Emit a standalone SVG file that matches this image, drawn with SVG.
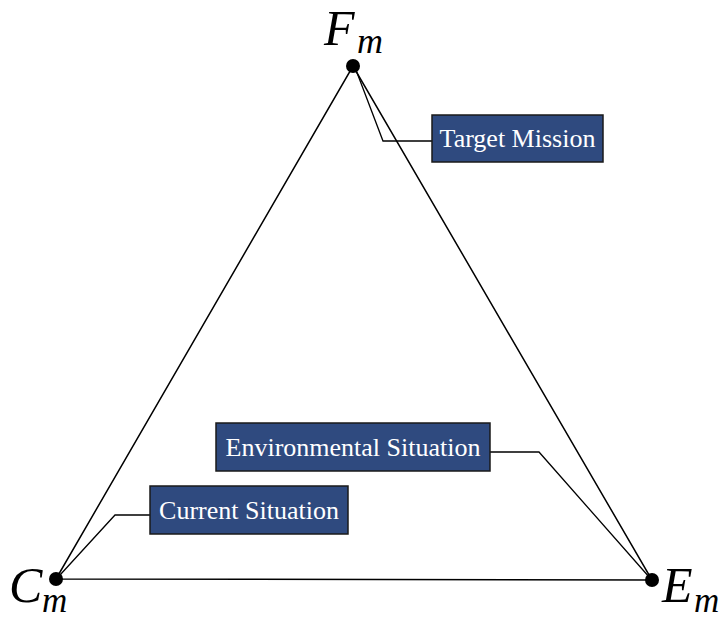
<svg xmlns="http://www.w3.org/2000/svg" width="723" height="620" viewBox="0 0 723 620">
  <style>
    .edge { fill: none; stroke: #000; stroke-width: 1.5; }
    .lead { fill: none; stroke: #000; stroke-width: 1.3; }
    .box { fill: #2F4A7F; stroke: #1a1a1a; stroke-width: 1.5; }
    .boxtext { font-family: "Liberation Serif", "Times New Roman", serif; font-size: 26px; fill: #fff; }
    .vlabel { font-family: "Liberation Serif", "Times New Roman", serif; font-style: italic; fill: #000; }
    .dot { fill: #000; }
  </style>
  <rect width="723" height="620" fill="#fff"/>

  <!-- triangle edges and callout leaders -->
  <g id="connectors">
    <path class="edge" d="M56,579 L353,66 L652,580 Z"/>
    <polyline class="lead" points="432,141 383,141 356,70"/>
    <polyline class="lead" points="490,452 539,452 650,578"/>
    <polyline class="lead" points="150,515 115,515 60,575"/>
  </g>

  <g id="vertex-F">
    <circle class="dot" cx="353" cy="66" r="7"/>
    <text class="vlabel" x="324" y="45" font-size="50">F</text>
    <text class="vlabel" x="357" y="53" font-size="36">m</text>
  </g>
  <g id="vertex-C">
    <circle class="dot" cx="56" cy="579" r="7"/>
    <text class="vlabel" x="9" y="602" font-size="50">C</text>
    <text class="vlabel" x="42" y="612" font-size="35">m</text>
  </g>
  <g id="vertex-E">
    <circle class="dot" cx="652" cy="580" r="7"/>
    <text class="vlabel" x="662" y="602" font-size="50">E</text>
    <text class="vlabel" x="694" y="612" font-size="35">m</text>
  </g>

  <g id="target-mission">
    <rect class="box" x="432" y="115" width="171" height="47"/>
    <text class="boxtext" x="517.5" y="147" text-anchor="middle">Target Mission</text>
  </g>
  <g id="environmental-situation">
    <rect class="box" x="216" y="423" width="274" height="48"/>
    <text class="boxtext" x="353" y="456" text-anchor="middle">Environmental Situation</text>
  </g>
  <g id="current-situation">
    <rect class="box" x="150" y="486" width="198" height="48"/>
    <text class="boxtext" x="249" y="519" text-anchor="middle">Current Situation</text>
  </g>
</svg>
